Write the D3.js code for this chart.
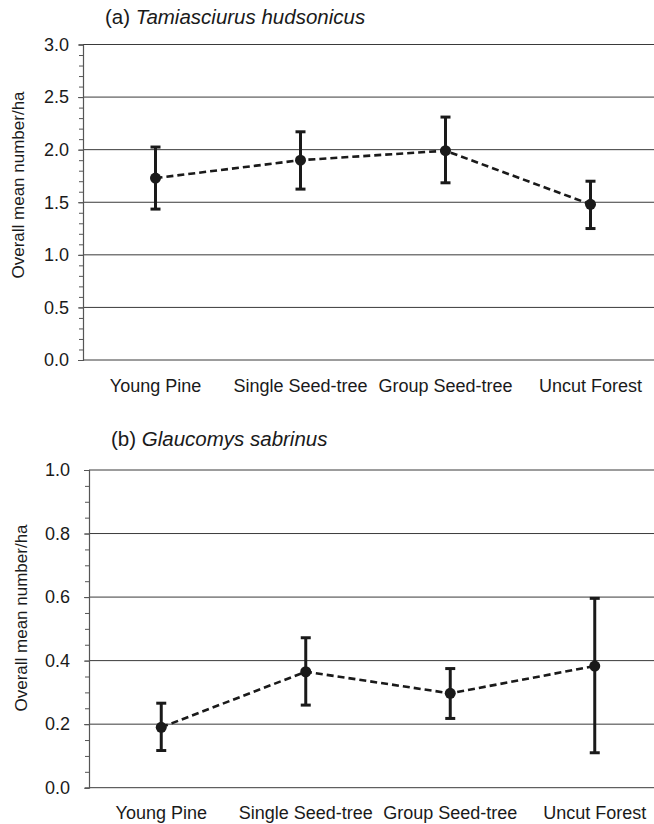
<!DOCTYPE html>
<html><head><meta charset="utf-8">
<script src="https://cdn.jsdelivr.net/npm/d3@7"></script>
<style>
html,body{margin:0;padding:0;background:#fff;}
svg text{font-family:"Liberation Sans",Arial,sans-serif;fill:#1a1a1a;}
</style></head>
<body>
<svg id="chart" width="654" height="824"></svg>
<script>
const categories = ["Young Pine", "Single Seed-tree", "Group Seed-tree", "Uncut Forest"];

const meanA  = [1.73, 1.90, 1.99, 1.48];
const upperA = [2.025, 2.17, 2.31, 1.70];
const lowerA = [1.435, 1.625, 1.685, 1.25];

const meanB  = [0.190, 0.365, 0.297, 0.383];
const upperB = [0.266, 0.472, 0.375, 0.596];
const lowerB = [0.117, 0.260, 0.218, 0.110];

const majorTicksA = [0, 0.5, 1.0, 1.5, 2.0, 2.5, 3.0];
const majorTicksB = [0, 0.2, 0.4, 0.6, 0.8, 1.0];

const titleA = {pre: "(a) ", species: "Tamiasciurus hudsonicus"};
const titleB = {pre: "(b) ", species: "Glaucomys sabrinus"};
const yLabel = "Overall mean number/ha";

const svg = d3.select("#chart");

function panel(cfg) {
  const g = svg.append("g");
  const x = d3.scaleBand().domain(categories).range([cfg.x0, cfg.x0 + 4 * cfg.band]);
  const y = d3.scaleLinear().domain([0, cfg.max]).range([cfg.yBottom, cfg.yTop]);
  const cx = c => x(c) + x.bandwidth() / 2;

  // gridlines
  g.append("g").selectAll("line").data(cfg.major).join("line")
    .attr("x1", cfg.x0).attr("x2", 654)
    .attr("y1", d => y(d)).attr("y2", d => y(d))
    .attr("stroke", "#3a3a3a").attr("stroke-width", 1);

  // y axis with minor and major ticks
  const minor = d3.range(0, cfg.max + 1e-9, cfg.minorStep);
  const axMinor = d3.axisLeft(y).tickValues(minor).tickSize(4).tickFormat("");
  const gm = g.append("g").attr("transform", `translate(${cfg.x0},0)`).call(axMinor);
  gm.select(".domain").attr("stroke", "#555").attr("stroke-width", 1.2);
  gm.selectAll(".tick line").attr("stroke", "#555");

  const axMajor = d3.axisLeft(y).tickValues(cfg.major).tickSize(5).tickPadding(cfg.pad)
    .tickFormat(d3.format(".1f"));
  const ga = g.append("g").attr("transform", `translate(${cfg.x0},0)`).call(axMajor);
  ga.select(".domain").remove();
  ga.selectAll(".tick line").attr("stroke", "#555");
  ga.attr("font-size", 18).attr("font-family", "'Liberation Sans', Arial, sans-serif");
  ga.selectAll(".tick text").attr("fill", "#1a1a1a");

  // category labels
  g.append("g").selectAll("text").data(categories).join("text")
    .attr("x", d => cx(d)).attr("y", cfg.catY)
    .attr("text-anchor", "middle").attr("font-size", 18).text(d => d);

  // y label
  g.append("text")
    .attr("transform", `translate(${cfg.labelX},${cfg.labelY}) rotate(-90)`)
    .attr("text-anchor", "middle").attr("font-size", 17).text(yLabel);

  // title
  const t = g.append("text").attr("x", cfg.titleX).attr("y", cfg.titleY).attr("font-size", 20.5);
  t.append("tspan").text(cfg.title.pre);
  t.append("tspan").attr("font-style", "italic").text(cfg.title.species);

  // dashed line
  const line = d3.line().x((d, i) => cx(categories[i])).y(d => y(d));
  g.append("path").datum(cfg.mean).attr("d", line)
    .attr("fill", "none").attr("stroke", "#1a1a1a").attr("stroke-width", 2.6)
    .attr("stroke-dasharray", "7,4");

  // error bars
  const eb = g.append("g").selectAll("g").data(categories).join("g");
  eb.append("line")
    .attr("x1", d => cx(d)).attr("x2", d => cx(d))
    .attr("y1", (d, i) => y(cfg.upper[i])).attr("y2", (d, i) => y(cfg.lower[i]))
    .attr("stroke", "#1a1a1a").attr("stroke-width", 3);
  [cfg.upper, cfg.lower].forEach(arr => {
    eb.append("line")
      .attr("x1", d => cx(d) - 5).attr("x2", d => cx(d) + 5)
      .attr("y1", (d, i) => y(arr[i])).attr("y2", (d, i) => y(arr[i]))
      .attr("stroke", "#1a1a1a").attr("stroke-width", 3);
  });

  // points
  g.append("g").selectAll("circle").data(cfg.mean).join("circle")
    .attr("cx", (d, i) => cx(categories[i])).attr("cy", d => y(d))
    .attr("r", 5.5).attr("fill", "#1a1a1a");
}

panel({
  x0: 83, band: 145, max: 3.0, yTop: 44.5, yBottom: 360,
  major: majorTicksA, minorStep: 0.1, pad: 9,
  mean: meanA, upper: upperA, lower: lowerA,
  catY: 392, labelX: 24, labelY: 185,
  titleX: 105, titleY: 24, title: titleA
});

panel({
  x0: 89, band: 144.5, max: 1.0, yTop: 470, yBottom: 787.7,
  major: majorTicksB, minorStep: 0.05, pad: 14,
  mean: meanB, upper: upperB, lower: lowerB,
  catY: 819, labelX: 27, labelY: 618,
  titleX: 111, titleY: 446, title: titleB
});
</script>
</body></html>
